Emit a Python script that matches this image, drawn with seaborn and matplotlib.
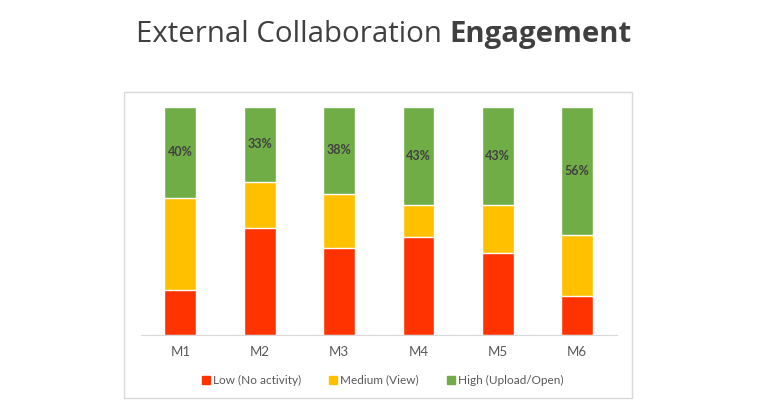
import seaborn as sns
import matplotlib.pyplot as plt
from matplotlib.patches import Rectangle
from matplotlib.lines import Line2D
import numpy as np

# data (share of users per month)
months = ['M1', 'M2', 'M3', 'M4', 'M5', 'M6']
low = [20, 47, 38, 43, 36, 17]
medium = [40, 20, 24, 14, 21, 27]
high = [40, 33, 38, 43, 43, 56]
series_names = ['Low (No activity)', 'Medium (View)', 'High (Upload/Open)']

c_low, c_med, c_high = '#FF3300', '#FFC000', '#70AD47'
txt = '#595959'

sns.set_style('white')
plt.rcParams['font.family'] = ['Lato', 'DejaVu Sans']

fig = plt.figure(figsize=(7.68, 4.01), dpi=100)
ax = fig.add_axes([0.1832, 0.1638, 0.6198, 0.5702])

low_a = np.array(low)
lowmed = low_a + np.array(medium)
total = lowmed + np.array(high)

# stacked bars drawn as cumulative heights, back to front
sns.barplot(x=months, y=total, color=c_high, width=0.4, saturation=1, ax=ax)
sns.barplot(x=months, y=lowmed, color=c_med, width=0.4, saturation=1, ax=ax)
sns.barplot(x=months, y=low_a, color=c_low, width=0.4, saturation=1, ax=ax)

for i, h in enumerate(high):
    ax.text(i, lowmed[i] + h / 2, f'{h}%', ha='center', va='center',
            fontsize=9, fontweight='bold', color='#404040')

ax.set_xlim(-0.5, 5.5)
ax.set_ylim(0, 100)
ax.set_yticks([])
ax.set_xlabel('')
ax.set_ylabel('')
for s in ['top', 'right', 'left']:
    ax.spines[s].set_visible(False)
ax.spines['bottom'].set_color('#d9d9d9')
ax.tick_params(axis='x', length=0, pad=8, labelsize=9.5, labelcolor=txt)

handles = [Line2D([], [], marker='s', linestyle='', markersize=6, color=c)
           for c in (c_low, c_med, c_high)]
fig.legend(handles, series_names, loc='center', bbox_to_anchor=(0.497, 0.052),
           ncol=3, frameon=False, fontsize=8.5, labelcolor=txt,
           handletextpad=0.1, columnspacing=2.2, handlelength=1)

# chart-area border
fig.patches.append(Rectangle((0.1615, 0.0075), 0.6615, 0.7638, transform=fig.transFigure,
                             fill=False, edgecolor='#d9d9d9', linewidth=1))

# title with bold last word
title_font = ['Open Sans', 'DejaVu Sans']
t1 = fig.text(0.5, 0.913, 'External Collaboration ', fontsize=21.2, color='#404040',
              ha='left', va='center', family=title_font)
t2 = fig.text(0.5, 0.913, 'Engagement', fontsize=21.2, color='#404040',
              fontweight='bold', ha='left', va='center', family=title_font)
fig.canvas.draw()
r = fig.canvas.get_renderer()
w1 = t1.get_window_extent(r).width
w2 = t2.get_window_extent(r).width
x0 = (384 - (w1 + w2) / 2)
t1.set_x(x0 / 768)
t2.set_x((x0 + w1) / 768)

fig.savefig('out.png', dpi=100)
